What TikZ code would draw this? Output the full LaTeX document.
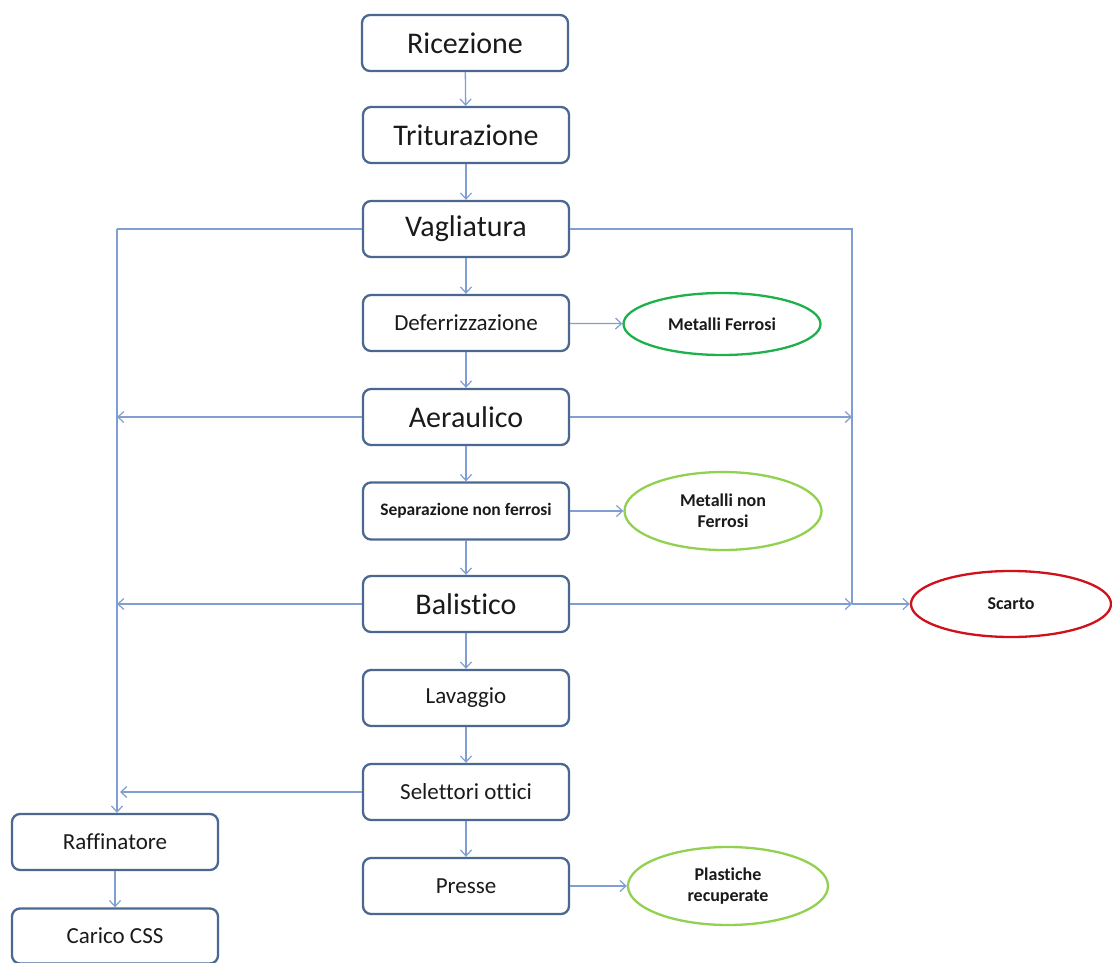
\documentclass[tikz,border=0pt]{standalone}
\usepackage{fontspec}
\setmainfont[Ligatures=NoCommon]{Carlito}
\usetikzlibrary{arrows.meta,shapes.geometric}
\definecolor{boxc}{HTML}{4A6890}
\definecolor{arrc}{HTML}{7F9ED2}
\definecolor{grn}{HTML}{1DB04B}
\definecolor{lgrn}{HTML}{92D050}
\definecolor{redc}{HTML}{D0101A}
\definecolor{txt}{HTML}{1A1A1A}
\tikzset{
  stepbox/.style={draw=boxc, line width=2.3pt, rounded corners=8pt, minimum width=206pt, minimum height=56pt, inner sep=0pt, text=txt, align=center},
  big/.style={font=\fontsize{30}{34}\selectfont},
  mid/.style={font=\fontsize{23}{27}\selectfont},
  sml/.style={font=\bfseries\fontsize{17.5}{21}\selectfont},
  oval/.style={ellipse, line width=2.3pt, minimum width=197pt, minimum height=62pt, inner sep=0pt, text=txt, align=center, font=\bfseries\fontsize{18}{21}\selectfont},
  conn/.style={draw=arrc, line width=1.3pt},
  arr/.style={conn, -{Straight Barb[length=6pt,width=11pt,line width=1.2pt]}},
}
\begin{document}
\begin{tikzpicture}[x=1pt,y=-1pt]
\useasboundingbox (0,0) rectangle (1112,963);
% main column
\node[stepbox,big] (ric) at (465,43) {Ricezione};
\node[stepbox,big] (tri) at (466,135) {Triturazione};
\node[stepbox,big] (vag) at (466,229) {Vagliatura};
\node[stepbox,mid] (def) at (466,323) {Deferrizzazione};
\node[stepbox,big] (aer) at (466,417) {Aeraulico};
\node[stepbox,sml,minimum height=57pt] (sep) at (466,511) {Separazione non ferrosi};
\node[stepbox,big] (bal) at (466,604) {Balistico};
\node[stepbox,mid] (lav) at (466,698) {Lavaggio};
\node[stepbox,mid] (sel) at (466,792) {Selettori ottici};
\node[stepbox,mid] (pre) at (466,886) {Presse};
\node[stepbox,mid] (raf) at (115,842) {Raffinatore};
\node[stepbox,mid,minimum height=55pt] (css) at (115,936) {Carico CSS};
% ellipses
\node[oval,draw=grn] (mf) at (722,324) {Metalli Ferrosi};
\node[oval,draw=lgrn,minimum height=78pt] (mnf) at (723,511) {Metalli non\\Ferrosi};
\node[oval,draw=redc,minimum width=200pt,minimum height=66pt] (sca) at (1011,604) {Scarto};
\node[oval,draw=lgrn,minimum width=200pt,minimum height=78pt] (pla) at (728,886) {Plastiche\\recuperate};
% coordinates of bus lines
\coordinate (Ltop) at (117,229);
\coordinate (Rtop) at (852,229);
\coordinate (Laer) at (117,417);
\coordinate (Raer) at (852,417);
\coordinate (Lbal) at (117,604);
\coordinate (Rbal) at (852,604);
\coordinate (Lsel) at (117,792);
% vertical flow
\draw[arr] (ric) -- (tri);
\draw[arr] (tri) -- (vag);
\draw[arr] (vag) -- (def);
\draw[arr] (def) -- (aer);
\draw[arr] (aer) -- (sep);
\draw[arr] (sep) -- (bal);
\draw[arr] (bal) -- (lav);
\draw[arr] (lav) -- (sel);
\draw[arr] (sel) -- (pre);
\draw[arr] (raf) -- (css);
% side outputs
\draw[arr] (def) -- (mf);
\draw[arr] (sep) -- (mnf);
\draw[arr] (pre) -- (pla);
% bus lines
\draw[conn] (vag.west) -- (Ltop);
\draw[arr] (Ltop) -- (raf.north -| Ltop);
\draw[conn] (vag.east) -- (Rtop) -- (Rbal);
\draw[arr] (Rbal) -- (sca);
\draw[arr] (aer.west) -- (Laer);
\draw[arr] (aer.east) -- (Raer);
\draw[arr] (bal.west) -- (Lbal);
\draw[arr] (bal.east) -- (Rbal);
\draw[arr] (sel.west) -- ([xshift=3pt]Lsel);
\end{tikzpicture}
\end{document}
